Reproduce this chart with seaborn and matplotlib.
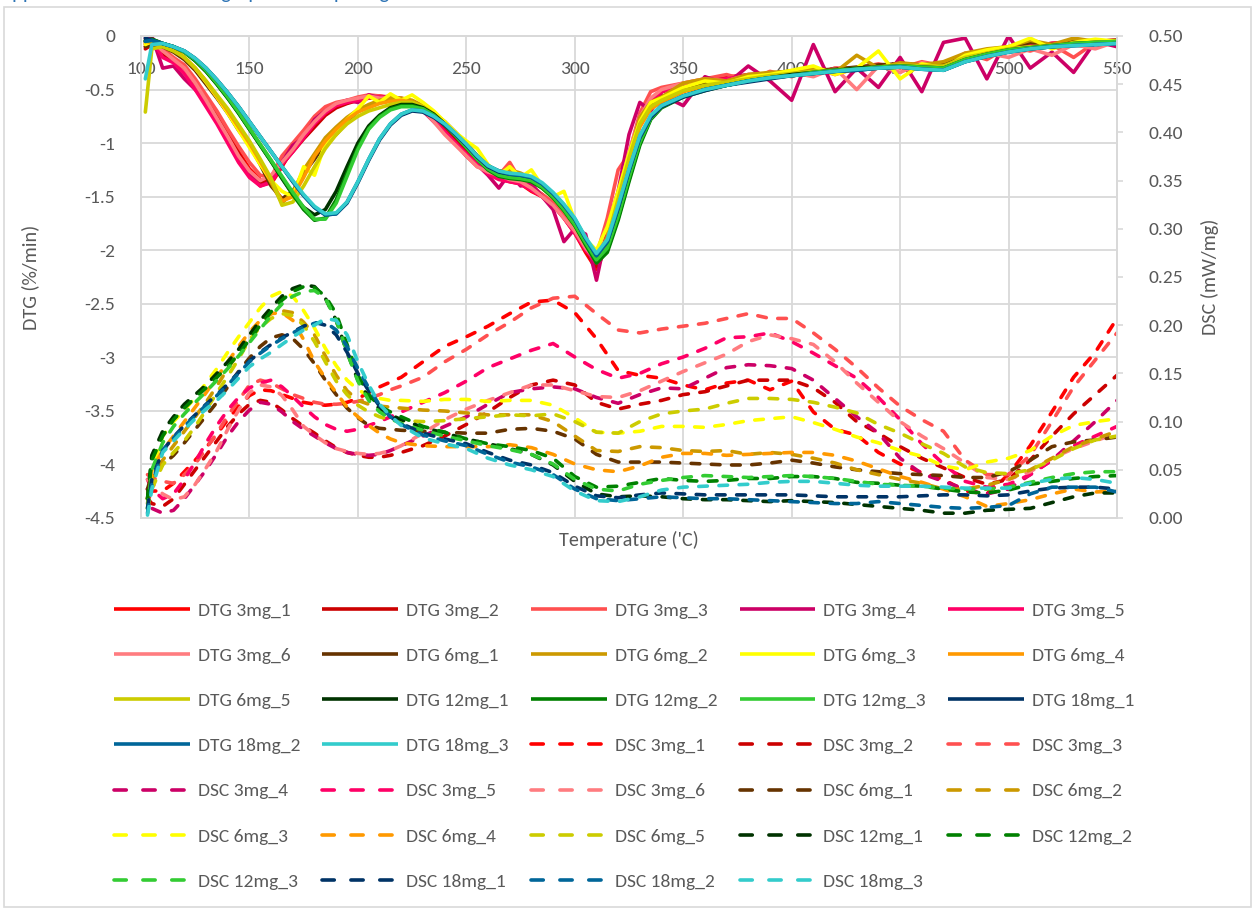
import matplotlib
matplotlib.use("Agg")
import matplotlib.pyplot as plt
import seaborn as sns
from matplotlib.lines import Line2D
from matplotlib.patches import Rectangle
from matplotlib import font_manager

# ---------------- data ----------------
T_DTG = [102] + list(range(105, 341, 5)) + list(range(350, 551, 10))
T_DSC = [103] + list(range(105, 221, 5)) + list(range(230, 551, 10))

SAMPLES = ["3mg_1", "3mg_2", "3mg_3", "3mg_4", "3mg_5", "3mg_6",
           "6mg_1", "6mg_2", "6mg_3", "6mg_4", "6mg_5",
           "12mg_1", "12mg_2", "12mg_3", "18mg_1", "18mg_2", "18mg_3"]
COLORS = ["#FF0000", "#CC0000", "#FF5050", "#CC0066", "#FF0066", "#FF7C80",
          "#663300", "#CC9900", "#FFFF00", "#FF9900", "#CCCC00",
          "#003300", "#008000", "#33CC33", "#003366", "#006699", "#33CCCC"]

X_TICKS = [100, 150, 200, 250, 300, 350, 400, 450, 500, 550]
X_LABELS = ["100", "150", "200", "250", "300", "350", "400", "450", "500", "550"]
DTG_TICKS = [0, -0.5, -1, -1.5, -2, -2.5, -3, -3.5, -4, -4.5]
DTG_LABELS = ["0", "-0.5", "-1", "-1.5", "-2", "-2.5", "-3", "-3.5", "-4", "-4.5"]
DSC_TICKS = [0, 0.05, 0.10, 0.15, 0.20, 0.25, 0.30, 0.35, 0.40, 0.45, 0.50]
DSC_LABELS = ["0.00", "0.05", "0.10", "0.15", "0.20", "0.25", "0.30", "0.35", "0.40", "0.45", "0.50"]

dtg_3mg_1 = [-0.10,-0.05,-0.15,-0.22,-0.28,-0.42,-0.58,-0.74,-0.90,-1.08,
             -1.24,-1.34,-1.38,-1.22,-1.05,-0.95,-0.84,-0.73,-0.66,-0.62,
             -0.58,-0.57,-0.56,-0.58,-0.60,-0.63,-0.70,-0.78,-0.88,-0.99,
             -1.10,-1.20,-1.28,-1.33,-1.36,-1.38,-1.45,-1.50,-1.58,-1.70,
             -1.84,-2.02,-2.18,-1.95,-1.52,-1.12,-0.80,-0.60,-0.52,-0.45,
             -0.42,-0.38,-0.37,-0.35,-0.34,-0.36,-0.30,-0.31,-0.28,-0.26,
             -0.28,-0.26,-0.18,-0.15,-0.12,-0.09,-0.07,-0.06,-0.05,-0.04]
dtg_3mg_2 = [-0.12,-0.08,-0.18,-0.24,-0.30,-0.45,-0.60,-0.76,-0.93,-1.10,
             -1.27,-1.37,-1.36,-1.20,-1.08,-0.96,-0.85,-0.74,-0.67,-0.63,
             -0.60,-0.58,-0.57,-0.57,-0.59,-0.62,-0.68,-0.76,-0.87,-0.97,
             -1.08,-1.18,-1.27,-1.32,-1.35,-1.37,-1.42,-1.48,-1.57,-1.68,
             -1.82,-2.00,-2.15,-1.93,-1.52,-1.10,-0.78,-0.60,-0.52,-0.46,
             -0.41,-0.39,-0.36,-0.35,-0.34,-0.33,-0.31,-0.30,-0.28,-0.27,
             -0.27,-0.25,-0.18,-0.14,-0.11,-0.09,-0.07,-0.06,-0.05,-0.04]
dtg_3mg_3 = [-0.08,-0.05,-0.12,-0.20,-0.27,-0.40,-0.55,-0.70,-0.87,-1.03,
             -1.18,-1.30,-1.32,-1.12,-1.00,-0.88,-0.75,-0.66,-0.62,-0.60,
             -0.57,-0.55,-0.56,-0.57,-0.58,-0.62,-0.68,-0.78,-0.90,-1.00,
             -1.12,-1.22,-1.24,-1.30,-1.18,-1.35,-1.40,-1.48,-1.55,-1.66,
             -1.80,-1.96,-2.05,-1.70,-1.25,-1.10,-0.72,-0.52,-0.48,-0.44,
             -0.40,-0.36,-0.42,-0.33,-0.38,-0.30,-0.36,-0.30,-0.26,-0.30,
             -0.24,-0.28,-0.16,-0.22,-0.10,-0.14,-0.08,-0.20,-0.06,-0.05]
dtg_3mg_4 = [-0.02,0.00,-0.30,-0.28,-0.40,-0.50,-0.62,-0.80,-0.95,-1.15,
             -1.30,-1.40,-1.36,-1.18,-1.02,-0.95,-0.78,-0.70,-0.64,-0.60,
             -0.62,-0.55,-0.58,-0.56,-0.60,-0.64,-0.70,-0.80,-0.90,-1.00,
             -1.12,-1.20,-1.30,-1.42,-1.28,-1.40,-1.38,-1.50,-1.62,-1.92,
             -1.80,-1.85,-2.28,-1.80,-1.45,-0.92,-0.62,-0.70,-0.55,-0.65,
             -0.38,-0.45,-0.28,-0.42,-0.60,-0.08,-0.52,-0.30,-0.48,-0.20,
             -0.52,-0.06,-0.02,-0.40,0.00,-0.30,-0.15,-0.34,-0.05,-0.10]
dtg_3mg_5 = [-0.05,-0.03,-0.20,-0.25,-0.35,-0.50,-0.66,-0.82,-1.00,-1.18,
             -1.32,-1.40,-1.37,-1.20,-1.08,-0.95,-0.82,-0.72,-0.65,-0.62,
             -0.60,-0.58,-0.57,-0.58,-0.60,-0.63,-0.70,-0.79,-0.89,-1.00,
             -1.10,-1.20,-1.29,-1.34,-1.36,-1.38,-1.44,-1.50,-1.58,-1.70,
             -1.84,-2.00,-2.12,-1.90,-1.50,-1.10,-0.78,-0.60,-0.52,-0.45,
             -0.42,-0.40,-0.37,-0.35,-0.33,-0.33,-0.31,-0.30,-0.28,-0.27,
             -0.27,-0.25,-0.18,-0.14,-0.11,-0.09,-0.07,-0.06,-0.05,-0.04]
dtg_3mg_6 = [-0.06,-0.04,-0.14,-0.22,-0.30,-0.44,-0.60,-0.77,-0.94,-1.12,
             -1.26,-1.35,-1.30,-1.18,-1.06,-0.92,-0.80,-0.70,-0.63,-0.60,
             -0.58,-0.56,-0.58,-0.58,-0.60,-0.63,-0.69,-0.80,-0.92,-1.02,
             -1.12,-1.22,-1.27,-1.30,-1.34,-1.36,-1.42,-1.50,-1.58,-1.70,
             -1.82,-1.98,-2.10,-1.88,-1.50,-1.08,-0.76,-0.58,-0.50,-0.44,
             -0.40,-0.42,-0.36,-0.40,-0.34,-0.38,-0.30,-0.50,-0.28,-0.34,
             -0.25,-0.28,-0.18,-0.16,-0.20,-0.12,-0.18,-0.08,-0.12,-0.05]
dtg_6mg_1 = [-0.10,-0.08,-0.10,-0.15,-0.22,-0.32,-0.45,-0.58,-0.72,-0.88,
             -1.02,-1.20,-1.40,-1.52,-1.45,-1.28,-1.15,-1.00,-0.92,-0.80,
             -0.70,-0.66,-0.62,-0.59,-0.60,-0.61,-0.66,-0.72,-0.80,-0.90,
             -1.00,-1.12,-1.22,-1.26,-1.28,-1.30,-1.33,-1.40,-1.50,-1.61,
             -1.76,-1.93,-2.07,-1.92,-1.55,-1.15,-0.82,-0.64,-0.58,-0.48,
             -0.44,-0.42,-0.38,-0.36,-0.33,-0.32,-0.31,-0.29,-0.27,-0.26,
             -0.27,-0.26,-0.18,-0.14,-0.11,-0.06,-0.08,-0.05,-0.06,-0.04]
dtg_6mg_2 = [-0.07,-0.06,-0.09,-0.13,-0.20,-0.30,-0.43,-0.57,-0.71,-0.86,
             -1.01,-1.18,-1.37,-1.56,-1.46,-1.25,-1.10,-0.95,-0.85,-0.76,
             -0.69,-0.64,-0.60,-0.58,-0.58,-0.60,-0.65,-0.72,-0.80,-0.90,
             -1.01,-1.12,-1.21,-1.27,-1.25,-1.28,-1.33,-1.40,-1.49,-1.60,
             -1.74,-1.92,-2.06,-1.88,-1.50,-1.12,-0.76,-0.62,-0.57,-0.44,
             -0.40,-0.42,-0.36,-0.34,-0.33,-0.30,-0.34,-0.18,-0.30,-0.25,
             -0.27,-0.24,-0.16,-0.12,-0.10,-0.04,-0.08,-0.02,-0.05,-0.04]
dtg_6mg_3 = [-0.08,-0.05,-0.07,-0.12,-0.20,-0.30,-0.43,-0.57,-0.72,-0.88,
             -1.04,-1.20,-1.35,-1.45,-1.50,-1.22,-1.30,-1.00,-0.92,-0.78,
             -0.68,-0.56,-0.62,-0.54,-0.60,-0.55,-0.62,-0.70,-0.80,-0.90,
             -0.98,-1.05,-1.20,-1.30,-1.22,-1.32,-1.25,-1.40,-1.50,-1.45,
             -1.72,-1.90,-2.00,-1.78,-1.45,-1.10,-0.80,-0.62,-0.58,-0.48,
             -0.42,-0.44,-0.38,-0.36,-0.32,-0.28,-0.36,-0.30,-0.14,-0.40,
             -0.26,-0.30,-0.18,-0.13,-0.10,-0.02,-0.12,-0.06,-0.03,-0.05]
dtg_6mg_4 = [-0.05,-0.06,-0.08,-0.12,-0.20,-0.30,-0.42,-0.56,-0.70,-0.85,
             -1.00,-1.17,-1.35,-1.54,-1.50,-1.32,-1.12,-0.98,-0.87,-0.78,
             -0.71,-0.67,-0.63,-0.61,-0.60,-0.62,-0.66,-0.73,-0.82,-0.92,
             -1.02,-1.13,-1.22,-1.28,-1.30,-1.31,-1.34,-1.41,-1.50,-1.62,
             -1.76,-1.94,-2.08,-1.92,-1.55,-1.17,-0.85,-0.68,-0.62,-0.52,
             -0.47,-0.44,-0.41,-0.38,-0.36,-0.34,-0.33,-0.31,-0.30,-0.28,
             -0.28,-0.29,-0.21,-0.17,-0.13,-0.11,-0.10,-0.08,-0.07,-0.06]
dtg_6mg_5 = [-0.71,-0.12,-0.10,-0.14,-0.20,-0.30,-0.42,-0.55,-0.68,-0.83,
             -0.98,-1.15,-1.33,-1.58,-1.55,-1.40,-1.22,-1.05,-0.92,-0.82,
             -0.75,-0.70,-0.67,-0.64,-0.62,-0.62,-0.66,-0.73,-0.82,-0.92,
             -1.03,-1.13,-1.23,-1.29,-1.31,-1.32,-1.35,-1.42,-1.51,-1.63,
             -1.77,-1.95,-2.08,-1.90,-1.52,-1.14,-0.82,-0.66,-0.60,-0.51,
             -0.46,-0.43,-0.40,-0.37,-0.35,-0.33,-0.32,-0.30,-0.29,-0.27,
             -0.28,-0.28,-0.20,-0.16,-0.12,-0.10,-0.09,-0.07,-0.06,-0.05]
dtg_12mg_1 = [-0.04,-0.03,-0.07,-0.10,-0.15,-0.23,-0.33,-0.45,-0.58,-0.72,
              -0.87,-1.02,-1.17,-1.33,-1.48,-1.60,-1.67,-1.62,-1.45,-1.22,
              -1.00,-0.84,-0.74,-0.67,-0.64,-0.64,-0.67,-0.73,-0.82,-0.92,
              -1.03,-1.14,-1.24,-1.30,-1.32,-1.33,-1.35,-1.41,-1.50,-1.62,
              -1.76,-1.94,-2.10,-2.00,-1.70,-1.34,-1.00,-0.77,-0.66,-0.56,
              -0.50,-0.46,-0.42,-0.39,-0.36,-0.34,-0.32,-0.30,-0.29,-0.28,
              -0.29,-0.30,-0.22,-0.17,-0.13,-0.11,-0.09,-0.07,-0.06,-0.06]
dtg_12mg_2 = [-0.05,-0.03,-0.07,-0.10,-0.15,-0.23,-0.33,-0.45,-0.58,-0.72,
              -0.87,-1.02,-1.17,-1.32,-1.48,-1.62,-1.72,-1.70,-1.53,-1.28,
              -1.04,-0.86,-0.75,-0.68,-0.65,-0.65,-0.68,-0.74,-0.83,-0.93,
              -1.04,-1.15,-1.25,-1.31,-1.33,-1.34,-1.36,-1.42,-1.51,-1.63,
              -1.77,-1.95,-2.12,-2.02,-1.72,-1.36,-1.02,-0.78,-0.67,-0.57,
              -0.51,-0.46,-0.42,-0.39,-0.37,-0.35,-0.33,-0.31,-0.30,-0.29,
              -0.30,-0.31,-0.23,-0.18,-0.14,-0.12,-0.10,-0.08,-0.07,-0.06]
dtg_12mg_3 = [-0.05,-0.04,-0.07,-0.10,-0.15,-0.22,-0.32,-0.44,-0.57,-0.71,
              -0.86,-1.01,-1.16,-1.31,-1.46,-1.60,-1.71,-1.71,-1.56,-1.31,
              -1.06,-0.87,-0.76,-0.69,-0.66,-0.66,-0.68,-0.74,-0.83,-0.93,
              -1.04,-1.15,-1.24,-1.30,-1.32,-1.33,-1.35,-1.41,-1.50,-1.62,
              -1.76,-1.93,-2.09,-1.98,-1.68,-1.32,-0.99,-0.77,-0.66,-0.56,
              -0.50,-0.46,-0.42,-0.39,-0.37,-0.34,-0.32,-0.31,-0.29,-0.28,
              -0.29,-0.30,-0.22,-0.17,-0.13,-0.11,-0.09,-0.07,-0.06,-0.05]
dtg_18mg_1 = [-0.02,-0.04,-0.07,-0.10,-0.14,-0.21,-0.30,-0.41,-0.53,-0.66,
              -0.80,-0.94,-1.08,-1.22,-1.36,-1.49,-1.60,-1.67,-1.66,-1.56,
              -1.37,-1.16,-0.97,-0.83,-0.74,-0.70,-0.71,-0.76,-0.83,-0.92,
              -1.02,-1.13,-1.22,-1.27,-1.29,-1.30,-1.32,-1.38,-1.47,-1.58,
              -1.71,-1.89,-2.05,-1.92,-1.61,-1.26,-0.95,-0.76,-0.66,-0.57,
              -0.51,-0.46,-0.43,-0.40,-0.37,-0.35,-0.33,-0.32,-0.30,-0.29,
              -0.31,-0.32,-0.24,-0.19,-0.15,-0.12,-0.10,-0.09,-0.08,-0.07]
dtg_18mg_2 = [-0.05,-0.04,-0.07,-0.10,-0.14,-0.21,-0.30,-0.41,-0.53,-0.66,
              -0.80,-0.94,-1.08,-1.22,-1.36,-1.49,-1.60,-1.67,-1.66,-1.55,
              -1.36,-1.15,-0.96,-0.82,-0.73,-0.69,-0.70,-0.75,-0.82,-0.91,
              -1.01,-1.12,-1.21,-1.26,-1.29,-1.30,-1.32,-1.38,-1.47,-1.58,
              -1.71,-1.89,-2.05,-1.92,-1.60,-1.25,-0.94,-0.75,-0.65,-0.56,
              -0.50,-0.46,-0.42,-0.39,-0.37,-0.35,-0.33,-0.32,-0.30,-0.29,
              -0.31,-0.32,-0.24,-0.19,-0.15,-0.12,-0.10,-0.09,-0.08,-0.07]
dtg_18mg_3 = [-0.40,-0.08,-0.07,-0.10,-0.14,-0.21,-0.30,-0.41,-0.53,-0.66,
              -0.80,-0.94,-1.08,-1.22,-1.35,-1.48,-1.59,-1.66,-1.65,-1.55,
              -1.36,-1.15,-0.96,-0.82,-0.73,-0.69,-0.70,-0.75,-0.82,-0.91,
              -1.01,-1.12,-1.21,-1.26,-1.28,-1.29,-1.31,-1.37,-1.46,-1.57,
              -1.70,-1.88,-2.03,-1.90,-1.58,-1.24,-0.93,-0.74,-0.65,-0.56,
              -0.50,-0.46,-0.42,-0.39,-0.37,-0.35,-0.33,-0.31,-0.30,-0.29,
              -0.31,-0.32,-0.24,-0.19,-0.15,-0.12,-0.10,-0.09,-0.08,-0.07]

dsc_3mg_1 = [0.030,0.028,0.028,0.036,0.048,0.060,0.073,0.087,0.102,0.116,
             0.127,0.133,0.132,0.128,0.124,0.120,0.118,0.117,0.118,0.120,
             0.124,0.130,0.136,0.141,0.146,0.162,0.178,0.188,0.199,0.212,
             0.224,0.226,0.213,0.186,0.153,0.148,0.145,0.138,0.133,0.140,
             0.143,0.133,0.142,0.110,0.092,0.086,0.068,0.056,0.047,0.040,
             0.028,0.025,0.045,0.075,0.110,0.146,0.172,0.207]
dsc_3mg_2 = [0.020,0.015,0.012,0.020,0.035,0.050,0.065,0.080,0.095,0.108,
             0.118,0.122,0.120,0.112,0.103,0.095,0.088,0.080,0.073,0.068,
             0.065,0.063,0.063,0.065,0.068,0.075,0.085,0.097,0.110,0.125,
             0.138,0.143,0.138,0.120,0.113,0.118,0.122,0.128,0.131,0.137,
             0.143,0.143,0.143,0.135,0.120,0.100,0.088,0.074,0.062,0.052,
             0.042,0.035,0.040,0.060,0.085,0.108,0.128,0.148]
dsc_3mg_3 = [0.045,0.042,0.038,0.036,0.045,0.056,0.072,0.088,0.106,0.122,
             0.138,0.143,0.140,0.134,0.128,0.124,0.120,0.118,0.118,0.119,
             0.121,0.124,0.128,0.133,0.137,0.146,0.162,0.175,0.190,0.203,
             0.218,0.228,0.230,0.212,0.195,0.192,0.196,0.199,0.202,0.207,
             0.212,0.207,0.207,0.192,0.175,0.156,0.135,0.116,0.102,0.090,
             0.060,0.045,0.045,0.065,0.100,0.136,0.164,0.192]
dsc_3mg_4 = [0.030,0.010,0.005,0.008,0.020,0.035,0.050,0.067,0.085,0.100,
             0.112,0.120,0.118,0.110,0.100,0.092,0.085,0.078,0.072,0.068,
             0.066,0.065,0.066,0.070,0.075,0.085,0.095,0.105,0.118,0.130,
             0.134,0.136,0.134,0.125,0.119,0.128,0.135,0.134,0.145,0.156,
             0.159,0.158,0.155,0.143,0.124,0.105,0.088,0.062,0.046,0.038,
             0.030,0.025,0.030,0.045,0.060,0.080,0.100,0.122]
dsc_3mg_5 = [0.040,0.030,0.020,0.025,0.040,0.058,0.078,0.096,0.112,0.125,
             0.135,0.140,0.143,0.136,0.126,0.115,0.105,0.097,0.092,0.090,
             0.092,0.096,0.100,0.105,0.110,0.120,0.130,0.142,0.156,0.165,
             0.174,0.181,0.167,0.154,0.145,0.150,0.160,0.167,0.176,0.187,
             0.188,0.192,0.183,0.171,0.158,0.145,0.125,0.102,0.077,0.056,
             0.038,0.032,0.035,0.045,0.060,0.075,0.085,0.095]
dsc_3mg_6 = [0.040,0.036,0.025,0.019,0.022,0.035,0.052,0.070,0.092,0.112,
             0.130,0.138,0.136,0.127,0.112,0.095,0.086,0.078,0.072,0.069,
             0.067,0.066,0.067,0.070,0.075,0.088,0.102,0.113,0.122,0.130,
             0.138,0.138,0.132,0.126,0.125,0.132,0.142,0.152,0.161,0.170,
             0.183,0.190,0.186,0.180,0.162,0.140,0.120,0.100,0.085,0.072,
             0.057,0.042,0.040,0.048,0.062,0.072,0.080,0.088]
dsc_6mg_1 = [0.030,0.045,0.055,0.065,0.078,0.092,0.106,0.120,0.136,0.152,
             0.166,0.178,0.187,0.190,0.186,0.175,0.160,0.143,0.128,0.114,
             0.104,0.096,0.093,0.092,0.091,0.090,0.089,0.088,0.088,0.092,
             0.093,0.090,0.082,0.066,0.058,0.058,0.058,0.057,0.056,0.055,
             0.055,0.057,0.060,0.057,0.053,0.050,0.048,0.046,0.045,0.044,
             0.042,0.042,0.048,0.060,0.074,0.079,0.081,0.084]
dsc_6mg_2 = [0.015,0.040,0.060,0.075,0.090,0.105,0.120,0.137,0.155,0.172,
             0.190,0.203,0.212,0.215,0.213,0.203,0.190,0.168,0.148,0.132,
             0.122,0.118,0.116,0.115,0.114,0.112,0.111,0.109,0.107,0.107,
             0.107,0.100,0.085,0.070,0.069,0.074,0.073,0.070,0.069,0.070,
             0.066,0.068,0.066,0.062,0.057,0.050,0.045,0.040,0.036,0.030,
             0.030,0.034,0.040,0.050,0.062,0.074,0.082,0.090]
dsc_6mg_3 = [0.020,0.050,0.085,0.100,0.112,0.125,0.140,0.155,0.172,0.188,
             0.203,0.218,0.230,0.235,0.230,0.215,0.197,0.176,0.158,0.143,
             0.133,0.127,0.124,0.122,0.122,0.121,0.123,0.123,0.121,0.122,
             0.122,0.117,0.104,0.089,0.088,0.090,0.095,0.095,0.094,0.097,
             0.101,0.103,0.105,0.099,0.092,0.084,0.078,0.070,0.064,0.054,
             0.050,0.058,0.062,0.070,0.085,0.096,0.100,0.103]
dsc_6mg_4 = [0.020,0.050,0.070,0.085,0.100,0.115,0.130,0.146,0.162,0.178,
             0.193,0.205,0.212,0.213,0.205,0.185,0.162,0.145,0.130,0.115,
             0.105,0.096,0.088,0.082,0.078,0.075,0.074,0.074,0.074,0.076,
             0.073,0.066,0.056,0.050,0.048,0.054,0.063,0.067,0.067,0.065,
             0.066,0.067,0.068,0.068,0.065,0.059,0.051,0.043,0.037,0.030,
             0.022,0.012,0.015,0.019,0.025,0.030,0.027,0.028]
dsc_6mg_5 = [0.010,0.030,0.055,0.068,0.080,0.095,0.112,0.130,0.147,0.165,
             0.185,0.198,0.207,0.212,0.210,0.200,0.183,0.162,0.142,0.128,
             0.117,0.110,0.105,0.102,0.101,0.100,0.101,0.103,0.105,0.107,
             0.106,0.108,0.100,0.089,0.088,0.100,0.108,0.111,0.113,0.119,
             0.124,0.124,0.123,0.120,0.115,0.109,0.097,0.088,0.077,0.067,
             0.053,0.047,0.046,0.050,0.060,0.072,0.081,0.085]
dsc_12mg_1 = [0.020,0.065,0.090,0.105,0.118,0.128,0.138,0.150,0.162,0.175,
              0.190,0.205,0.218,0.230,0.238,0.242,0.240,0.228,0.205,0.172,
              0.143,0.125,0.113,0.107,0.102,0.094,0.088,0.082,0.077,0.072,
              0.066,0.055,0.038,0.025,0.022,0.023,0.022,0.020,0.019,0.019,
              0.018,0.017,0.018,0.017,0.016,0.014,0.012,0.010,0.008,0.005,
              0.005,0.008,0.009,0.010,0.016,0.022,0.026,0.026]
dsc_12mg_2 = [0.020,0.060,0.085,0.102,0.114,0.125,0.135,0.146,0.157,0.170,
              0.185,0.200,0.214,0.226,0.235,0.240,0.239,0.230,0.212,0.180,
              0.148,0.128,0.116,0.110,0.105,0.095,0.089,0.082,0.077,0.074,
              0.070,0.062,0.043,0.032,0.033,0.037,0.041,0.039,0.038,0.039,
              0.041,0.041,0.043,0.043,0.041,0.037,0.036,0.034,0.033,0.030,
              0.027,0.026,0.029,0.035,0.038,0.041,0.043,0.044]
dsc_12mg_3 = [0.010,0.050,0.078,0.095,0.108,0.120,0.131,0.143,0.155,0.168,
              0.182,0.196,0.210,0.222,0.230,0.235,0.236,0.228,0.205,0.172,
              0.142,0.122,0.110,0.103,0.098,0.091,0.085,0.080,0.075,0.071,
              0.066,0.056,0.040,0.030,0.028,0.035,0.039,0.042,0.044,0.043,
              0.042,0.043,0.044,0.043,0.041,0.038,0.035,0.034,0.033,0.031,
              0.030,0.030,0.032,0.037,0.042,0.046,0.048,0.048]
dsc_18mg_1 = [0.010,0.040,0.070,0.084,0.096,0.107,0.118,0.128,0.139,0.151,
              0.163,0.172,0.180,0.187,0.193,0.199,0.203,0.200,0.190,0.172,
              0.150,0.132,0.116,0.105,0.098,0.088,0.082,0.077,0.068,0.060,
              0.055,0.047,0.033,0.023,0.021,0.024,0.026,0.025,0.024,0.024,
              0.024,0.024,0.024,0.023,0.022,0.022,0.022,0.022,0.023,0.024,
              0.024,0.023,0.024,0.028,0.031,0.032,0.032,0.030]
dsc_18mg_2 = [0.005,0.035,0.070,0.083,0.095,0.106,0.117,0.127,0.138,0.150,
              0.162,0.171,0.179,0.186,0.192,0.198,0.202,0.203,0.195,0.178,
              0.155,0.135,0.117,0.105,0.097,0.086,0.080,0.075,0.066,0.058,
              0.053,0.045,0.030,0.020,0.018,0.020,0.022,0.021,0.020,0.020,
              0.019,0.018,0.017,0.016,0.015,0.015,0.017,0.015,0.013,0.011,
              0.010,0.011,0.013,0.025,0.032,0.032,0.032,0.027]
dsc_18mg_3 = [0.003,0.030,0.068,0.080,0.092,0.103,0.113,0.122,0.133,0.145,
              0.157,0.165,0.172,0.180,0.188,0.195,0.200,0.207,0.205,0.190,
              0.162,0.138,0.118,0.106,0.096,0.083,0.077,0.072,0.062,0.055,
              0.050,0.043,0.028,0.018,0.017,0.022,0.029,0.032,0.033,0.034,
              0.035,0.037,0.038,0.038,0.036,0.034,0.033,0.033,0.033,0.032,
              0.031,0.031,0.031,0.036,0.040,0.042,0.040,0.036]

DTG_SERIES = [dtg_3mg_1, dtg_3mg_2, dtg_3mg_3, dtg_3mg_4, dtg_3mg_5, dtg_3mg_6,
              dtg_6mg_1, dtg_6mg_2, dtg_6mg_3, dtg_6mg_4, dtg_6mg_5,
              dtg_12mg_1, dtg_12mg_2, dtg_12mg_3, dtg_18mg_1, dtg_18mg_2, dtg_18mg_3]
DSC_SERIES = [dsc_3mg_1, dsc_3mg_2, dsc_3mg_3, dsc_3mg_4, dsc_3mg_5, dsc_3mg_6,
              dsc_6mg_1, dsc_6mg_2, dsc_6mg_3, dsc_6mg_4, dsc_6mg_5,
              dsc_12mg_1, dsc_12mg_2, dsc_12mg_3, dsc_18mg_1, dsc_18mg_2, dsc_18mg_3]

# ---------------- style ----------------
sns.set_style("white")
avail = {f.name for f in font_manager.fontManager.ttflist}
FONT = "Carlito" if "Carlito" in avail else ("Lato" if "Lato" in avail else "DejaVu Sans")
plt.rcParams["font.family"] = [FONT, "DejaVu Sans"]
plt.rcParams["axes.unicode_minus"] = False

TXT = "#595959"
GRID = "#D9D9D9"
LW = 2.6
PLOT_DASH = (0, (2.4, 3.2))
LEG_DASH = (0, (3.4, 4.6))

W, H = 1253, 911
fig = plt.figure(figsize=(W / 100, H / 100), dpi=100)
L, R, TOP, BOT = 141, 1117, 36, 518
ax = fig.add_axes([L / W, 1 - BOT / H, (R - L) / W, (BOT - TOP) / H])
ax2 = ax.twinx()

handles = []
for name, col, vals in zip(SAMPLES, COLORS, DTG_SERIES):
    sns.lineplot(x=T_DTG, y=vals, ax=ax, color=col, linewidth=LW,
                 estimator=None, sort=False, legend=False)
    ln = ax.get_lines()[-1]
    ln.set_solid_capstyle("round")
    ln.set_solid_joinstyle("round")
    handles.append((Line2D([], [], color=col, lw=LW, solid_capstyle="butt"), "DTG " + name))
for name, col, vals in zip(SAMPLES, COLORS, DSC_SERIES):
    sns.lineplot(x=T_DSC, y=vals, ax=ax2, color=col, linewidth=LW,
                 estimator=None, sort=False, legend=False)
    ln = ax2.get_lines()[-1]
    ln.set_linestyle(PLOT_DASH)
    ln.set_dash_capstyle("round")
    handles.append((Line2D([], [], color=col, lw=LW, linestyle=LEG_DASH,
                           dash_capstyle="round"), "DSC " + name))

# axes limits / ticks
ax.set_xlim(100, 550)
ax.set_ylim(-4.5, 0)
ax2.set_ylim(0, 0.5)
ax.set_xticks(X_TICKS)
ax.set_xticklabels(X_LABELS)
ax.set_yticks(DTG_TICKS)
ax.set_yticklabels(DTG_LABELS)
ax2.set_yticks(DSC_TICKS)
ax2.set_yticklabels(DSC_LABELS)
ax.set_xlabel("")
ax.set_ylabel("")
ax2.set_ylabel("")

ax.grid(True, color=GRID, lw=1.3)
ax.set_axisbelow(True)
for a in (ax, ax2):
    for s in a.spines.values():
        s.set_color(GRID)
        s.set_linewidth(1.3)
ax.tick_params(axis="x", bottom=False, top=False, labelbottom=False, labeltop=True,
               pad=-33, labelsize=14, labelcolor=TXT)
ax.tick_params(axis="y", left=False, right=False, pad=15, labelsize=14, labelcolor=TXT)
ax2.tick_params(axis="y", right=True, length=4, width=1.2, color=GRID, pad=19,
                labelsize=14, labelcolor=TXT)

ax.text(-0.114, 0.5, "DTG (%/min)", transform=ax.transAxes, rotation=90,
        ha="center", va="center", fontsize=14.5, color=TXT)
ax.text(1.095, 0.5, "DSC (mW/mg)", transform=ax.transAxes, rotation=90,
        ha="center", va="center", fontsize=14.5, color=TXT)
ax.text(0.5, -0.046, "Temperature ('C)", transform=ax.transAxes,
        ha="center", va="center", fontsize=14.5, color=TXT)

# legend, row-major as in the reference (5 columns)
ncol, n = 5, len(handles)
nrow = -(-n // ncol)
order = [r * ncol + c for c in range(ncol) for r in range(nrow) if r * ncol + c < n]
fig.legend([handles[i][0] for i in order], [handles[i][1] for i in order],
           ncol=ncol, loc="upper left", bbox_to_anchor=(114 / W, 1 - 602 / H),
           frameon=False, fontsize=14, handlelength=3.9, handletextpad=0.4,
           columnspacing=1.15, labelspacing=1.47, borderpad=0, borderaxespad=0,
           labelcolor=TXT)

# chart border and clipped heading at top
fig.patches.append(Rectangle((4 / W, 1 - 907 / H), 1247 / W, 900 / H,
                             transform=fig.transFigure, fill=False,
                             edgecolor=GRID, lw=1.2))
fig.text(0.0, 1 + 0.5 / H, "Appendix 1: DTG and DSC graphs with spacing",
         color="#2E74B5", fontsize=15, va="baseline", ha="left")

fig.savefig("out.png", dpi=100)
